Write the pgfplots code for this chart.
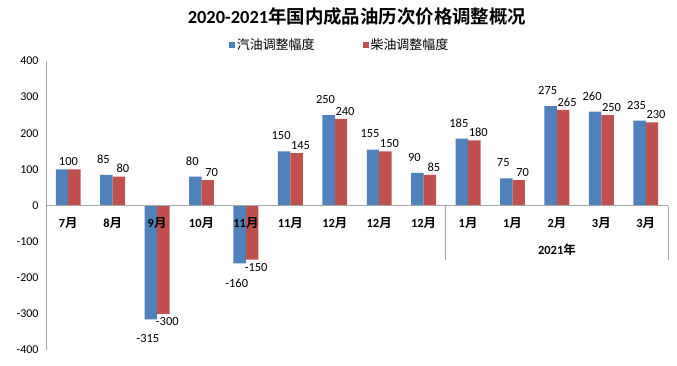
\documentclass[border=0pt]{standalone}
\usepackage{fontspec}
\setmainfont{Carlito}
\newfontfamily\cjk{Noto Sans CJK SC}[BoldFont=* Bold]
\usepackage{pgfplots}
\pgfplotsset{compat=1.18}
\definecolor{gblue}{HTML}{4F81BD}
\definecolor{dred}{HTML}{C0504D}
\newcommand{\yue}[1]{#1{\cjk 月}}
\begin{document}
\begin{tikzpicture}
\useasboundingbox (0,0) rectangle (677bp,-366bp);
\begin{axis}[
  at={(46bp,-350bp)}, anchor=south west,
  scale only axis, width=622bp, height=289bp,
  xmin=-0.5, xmax=13.5, ymin=-400, ymax=400,
  ytick={-400,-300,...,400},
  axis y line=left, axis x line=middle,
  axis line style={-, draw=gray!70, line width=0.8pt},
  hide obscured x ticks=false, hide obscured y ticks=false,
  axis on top,
  xtick={0,...,13},
  xticklabels={\yue{7},\yue{8},\yue{9},\yue{10},\yue{11},\yue{11},\yue{12},\yue{12},\yue{12},\yue{1},\yue{1},\yue{2},\yue{3},\yue{3}},
  xticklabel style={font=\bfseries\fontsize{12.5}{14}\selectfont, yshift=-8bp},
  yticklabel style={font=\fontsize{12}{14}\selectfont, xshift=-4bp},
  /pgf/number format/assume math mode=true,
  major tick length=0pt,
  ybar=0pt, bar width=0.28,
  clip=false,
  nodes near coords,
  every node near coord/.append style={font=\fontsize{12.5}{14}\selectfont, text=black},
  visualization depends on={rawx \as \rawx},
  visualization depends on={rawy \as \rawy},
  legend style={at={(0.472,1)}, anchor=south, yshift=6bp, draw=none,
    font=\cjk\fontsize{13}{15}\selectfont, legend columns=2,
    /tikz/every even column/.append style={column sep=46bp}},
  legend image code/.code={\fill[#1] (0bp,-3bp) rectangle (6bp,3bp);},
]
\addplot[fill=gblue, draw=none,
  nodes near coords={\ifdim\rawx pt<0.5pt\else\pgfmathprintnumber{\pgfplotspointmeta}\fi},
  every node near coord/.append style={xshift=-3bp, yshift={ifthenelse(\rawy>0,8,-12)}}]
  coordinates {(0,100) (1,85) (2,-315) (3,80) (4,-160) (5,150) (6,250) (7,155) (8,90) (9,185) (10,75) (11,275) (12,260) (13,235)};
\addplot[fill=dred, draw=none,
  every node near coord/.append style={xshift={ifthenelse(\rawx<0.5,-6,4)}}]
  coordinates {(0,100) (1,80) (2,-300) (3,70) (4,-150) (5,145) (6,240) (7,150) (8,85) (9,180) (10,70) (11,265) (12,250) (13,230)};
\legend{汽油调整幅度,柴油调整幅度}
\draw[gray!70, line width=0.8pt] (axis cs:8.5,0) -- ([yshift=-54bp]axis cs:8.5,0);
\draw[gray!70, line width=0.8pt] (axis cs:13.5,0) -- ([yshift=-54bp]axis cs:13.5,0);
\node[font=\bfseries\fontsize{12.5}{14}\selectfont] at ([yshift=-44bp]axis cs:11,0) {2021{\cjk 年}};
\end{axis}
\node[font=\bfseries\fontsize{18.5}{21}\selectfont] at (357bp,-17bp) {2020-2021{\cjk 年国内成品油历次价格调整概况}};
\end{tikzpicture}
\end{document}
